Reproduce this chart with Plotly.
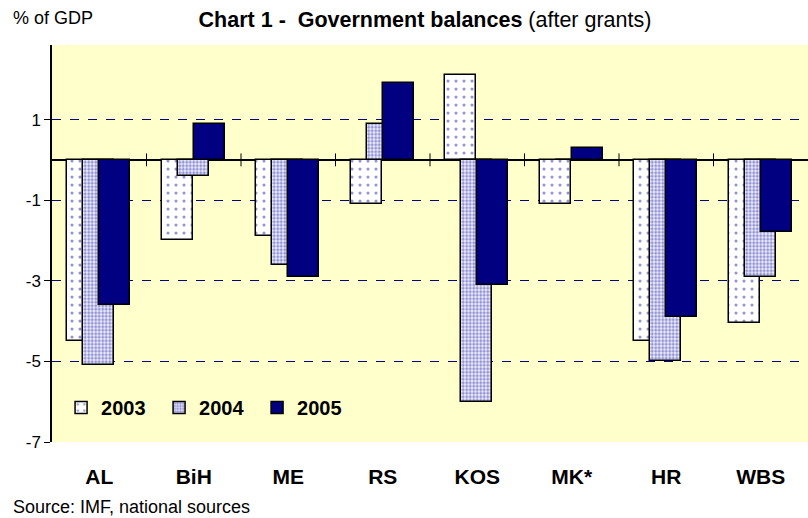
import plotly.graph_objects as go

categories = ["AL", "BiH", "ME", "RS", "KOS", "MK*", "HR", "WBS"]
v2003 = [-4.5, -2.0, -1.9, -1.1, 2.1, -1.1, -4.5, -4.05]
v2004 = [-5.1, -0.4, -2.6, 0.9, -6.0, 0.0, -5.0, -2.9]
v2005 = [-3.6, 0.9, -2.9, 1.9, -3.1, 0.3, -3.9, -1.8]
years = ["2003", "2004", "2005"]
y_ticks = [1, -1, -3, -5, -7]

FONT = "Liberation Sans, Arial, sans-serif"
NAVY = "#000080"

fig = go.Figure()
styles = [
    dict(marker_color="white", marker_pattern=dict(shape=".", fgcolor="#2a2aa0", bgcolor="white", size=8, solidity=0.12)),
    dict(marker_color="white", marker_pattern=dict(shape=".", fgcolor="#3535a5", bgcolor="#f0f0ff", size=3.5, solidity=0.55)),
    dict(marker_color=NAVY),
]
offsets = [-0.34, -0.17, 0.0]
for name, vals, st, off in zip(years, [v2003, v2004, v2005], styles, offsets):
    fig.add_trace(go.Bar(
        x=categories, y=vals, name=name, offset=off, width=0.33,
        marker_line=dict(color="black", width=1.5), **st,
    ))

# tick marks at category boundaries crossing the zero line
for i in range(len(categories) - 1):
    fig.add_shape(type="line", xref="x", yref="y", x0=i + 0.5, x1=i + 0.5,
                  y0=-0.16, y1=0.16, line=dict(color="black", width=1))

fig.update_layout(
    width=808, height=518,
    margin=dict(l=52, r=0, t=45, b=76, autoexpand=False),
    paper_bgcolor="white", plot_bgcolor="#FFFFCC",
    barmode="overlay", bargap=0, hovermode=False,
    font=dict(family=FONT, color="black"),
    title=dict(text="<b>Chart 1 -  Government balances</b> (after grants)",
               x=0.526, xanchor="center", y=0.962, yanchor="middle",
               font=dict(size=21.5, family=FONT)),
    showlegend=True,
    legend=dict(orientation="h", x=0.012, y=0.087, xanchor="left", yanchor="middle",
                bgcolor="rgba(0,0,0,0)", font=dict(size=20, family=FONT, weight="bold"),
                itemwidth=30, entrywidth=53, entrywidthmode="pixels",
                tracegroupgap=0, traceorder="normal"),
    xaxis=dict(type="category", showline=False, showgrid=False, ticks="",
               tickfont=dict(size=21, family=FONT, weight="bold"), automargin=False,
               ticklabelstandoff=20, range=[-0.5, 7.5], fixedrange=True),
    yaxis=dict(range=[-7, 2.85], tickvals=y_ticks, ticktext=[str(t) for t in y_ticks],
               showline=True, linecolor="black", linewidth=1.5, automargin=False,
               ticks="outside", ticklen=6, tickcolor="black", fixedrange=True,
               showgrid=True, gridcolor=NAVY, griddash="dash", gridwidth=1,
               zeroline=True, zerolinecolor="black", zerolinewidth=1.5,
               tickfont=dict(size=17, family=FONT)),
)
fig.add_annotation(text="% of GDP", xref="paper", yref="paper", x=-0.054, y=1.0,
                   xanchor="left", yanchor="bottom", yshift=15, showarrow=False,
                   font=dict(size=18, family=FONT))
fig.add_annotation(text="Source: IMF, national sources", xref="paper", yref="paper",
                   x=-0.054, y=0, xanchor="left", yanchor="top", yshift=-53,
                   showarrow=False, font=dict(size=18, family=FONT))

fig.write_html("out.html", config={"displayModeBar": False},
               post_script="document.body.style.margin='0';")
